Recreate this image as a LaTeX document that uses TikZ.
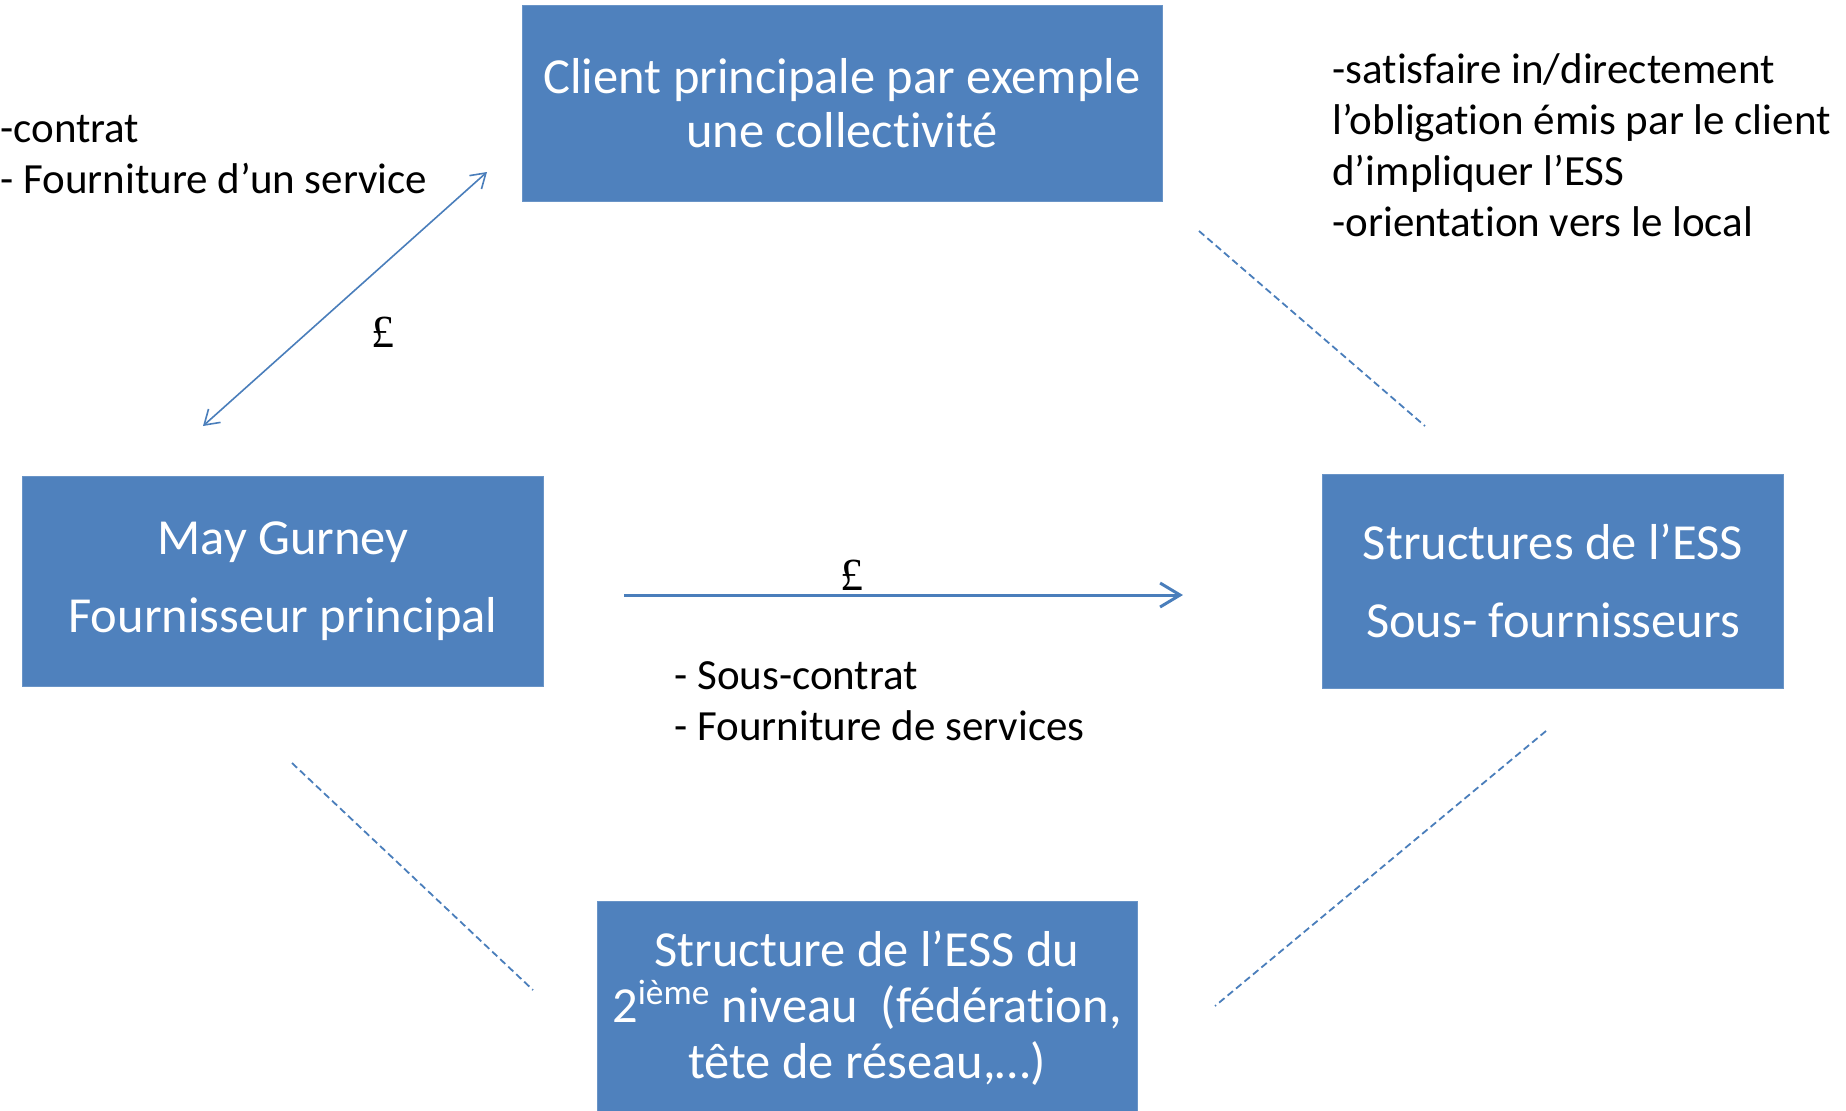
\documentclass[tikz,border=0pt]{standalone}
\usepackage{fontspec}
\setmainfont{Carlito}[Ligatures=CommonOff]
\newfontfamily\poundfont{Liberation Serif}
\usetikzlibrary{arrows.meta}
\definecolor{boxblue}{HTML}{4F81BD}
\definecolor{lineblue}{HTML}{4A7EBB}
\begin{document}
\begin{tikzpicture}[x=0.5pt,y=-0.5pt,
  box/.style={fill=boxblue, draw=boxblue!85!white, line width=0.5pt, text=white, align=center, inner sep=0pt},
  boxfont/.style={font=\fontsize{25.25pt}{27pt}\selectfont},
  boxfontwide/.style={font=\fontsize{25.25pt}{39pt}\selectfont},
  lbl/.style={anchor=base west, inner sep=0pt, font=\fontsize{21.5pt}{25.5pt}\selectfont, align=left},
  money/.style={inner sep=0pt, font=\poundfont\fontsize{23pt}{25pt}\selectfont},
  flow/.style={draw=lineblue, line width=1.5pt, -{Straight Barb[length=10pt,width=12pt]}},
  flowtwo/.style={draw=lineblue, line width=0.8pt, {Straight Barb[length=7pt,width=9pt]}-{Straight Barb[length=7pt,width=9pt]}},
  link/.style={draw=lineblue, line width=0.9pt, dash pattern=on 3.5pt off 2pt}
]
\useasboundingbox (0,0) rectangle (1846,1110);
% boxes
\node[box, boxfont, minimum width=320pt, minimum height=98pt] (client) at (842,103.5) {Client principale par exemple\\une collectivité};
\node[box, boxfontwide, minimum width=260.5pt, minimum height=105pt] (may) at (283,581) {May Gurney\\Fournisseur principal};
\node[box, boxfontwide, minimum width=230.5pt, minimum height=107pt] (ess) at (1553,581) {Structures de l’ESS\\Sous- fournisseurs};
\node[box, font=\fontsize{25.25pt}{28pt}\selectfont, minimum width=270pt, minimum height=107pt] (second) at (867,1008) {Structure de l’ESS du\\2\textsuperscript{ième} niveau\ \ (fédération,\\tête de réseau,…)};
% labels
\node[lbl] (lcontrat) at (0,193) {-contrat\\- Fourniture d’un service};
\node[lbl] (rnote) at (1332,236) {-satisfaire in/directement\\l’obligation émis par le client\\d’impliquer l’ESS\\-orientation vers le local};
\node[lbl] (souscontrat) at (674,740) {- Sous-contrat\\- Fourniture de services};
\node[money] (pound1) at (383,332) {£};
\node[money] (pound2) at (852,575) {£};
% connector ends
\coordinate (a1) at (203,426);
\coordinate (a2) at (487,172);
\coordinate (h1) at (624,595);
\coordinate (h2) at (1183,595);
\coordinate (d1a) at (1199,231);
\coordinate (d1b) at (1425,426);
\coordinate (d2a) at (292,763);
\coordinate (d2b) at (533,990);
\coordinate (d3a) at (1546,731);
\coordinate (d3b) at (1215,1006);
% connectors
\draw[flowtwo] (a1) -- (a2);
\draw[flow] (h1) -- (h2);
\draw[link] (d1a) -- (d1b);
\draw[link] (d2a) -- (d2b);
\draw[link] (d3a) -- (d3b);
\end{tikzpicture}
\end{document}
